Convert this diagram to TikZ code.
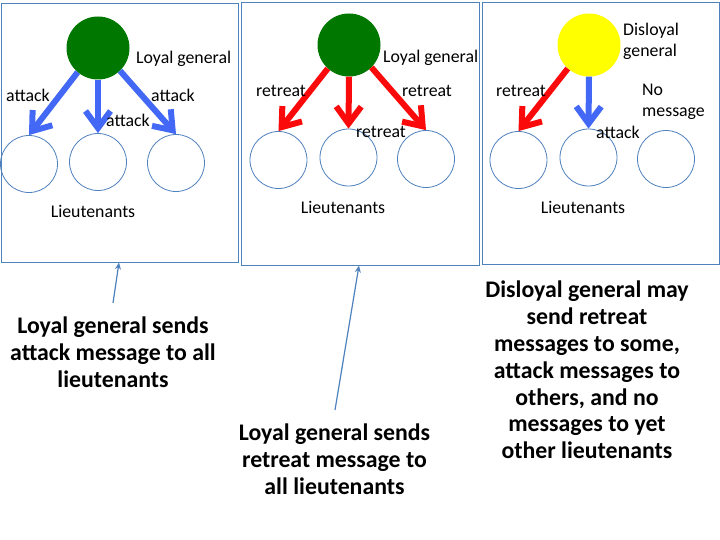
\documentclass[tikz,border=0pt]{standalone}
\usepackage{fontspec}
\setmainfont{Carlito}
\usetikzlibrary{arrows.meta}
\definecolor{boxblue}{RGB}{79,129,189}
\definecolor{arrblue}{RGB}{66,104,245}
\definecolor{arrred}{RGB}{250,10,10}
\definecolor{gengreen}{RGB}{0,120,0}
\definecolor{genyellow}{RGB}{255,255,0}
\begin{document}
\begin{tikzpicture}[x=1pt,y=-1pt,
  panel/.style={draw=boxblue,line width=1pt,inner sep=0pt},
  lieut/.style={circle,draw=boxblue,line width=0.8pt,minimum size=57pt,inner sep=0pt},
  gen/.style={circle,minimum size=63pt,inner sep=0pt},
  lbl/.style={font=\fontsize{17.8}{21}\selectfont,inner sep=0pt},
  msg/.style={line width=6pt,-{Straight Barb[length=17pt,width=25pt]}},
  note/.style={font=\bfseries\fontsize{23.8}{26.8}\selectfont,align=center,inner sep=0pt},
  ptr/.style={draw=boxblue,line width=1.2pt,-{Stealth[length=7pt,width=6pt]}}
]
\useasboundingbox[fill=white] (0,0) rectangle (720,540);

% panels
\node[panel,minimum width=237pt,minimum height=258pt] (p1) at (119.5,133) {};
\node[panel,minimum width=238pt,minimum height=262pt] (p2) at (360,134) {};
\node[panel,minimum width=237pt,minimum height=261pt] (p3) at (600.5,133.5) {};

% panel 1
\node[gen,fill=gengreen] (g1) at (98,48) {};
\node[lieut] (a1) at (29,164) {};
\node[lieut] (a2) at (98,162) {};
\node[lieut] (a3) at (176,163) {};
\draw[msg,arrblue] (g1.-130) -- (a1.north);
\draw[msg,arrblue] (g1.south) -- (a2.north);
\draw[msg,arrblue] (g1.-46) -- (a3.north);
\node[lbl,anchor=west] (lg1) at (136,59) {Loyal general};
\node[lbl] (m11) at (28,95) {attack};
\node[lbl] (m12) at (128,120) {attack};
\node[lbl] (m13) at (173,95) {attack};
\node[lbl] (lt1) at (93,211) {Lieutenants};

% panel 2
\node[gen,fill=gengreen] (g2) at (349,45) {};
\node[lieut] (b1) at (278.5,160) {};
\node[lieut] (b2) at (348.5,157.5) {};
\node[lieut] (b3) at (426,159) {};
\draw[msg,arrred] (g2.-132) -- (b1.north);
\draw[msg,arrred] (g2.south) -- (b2.north);
\draw[msg,arrred] (g2.-45) -- (b3.north);
\node[lbl,anchor=west] (lg2) at (383,58) {Loyal general};
\node[lbl] (m21) at (281,91) {retreat};
\node[lbl] (m22) at (381,132) {retreat};
\node[lbl] (m23) at (427,91) {retreat};
\node[lbl] (lt2) at (343,207) {Lieutenants};

% panel 3
\node[gen,fill=genyellow] (g3) at (589,45) {};
\node[lieut] (c1) at (518.5,160) {};
\node[lieut] (c2) at (588.5,157.5) {};
\node[lieut] (c3) at (666,159) {};
\draw[msg,arrred] (g3.-132) -- (c1.north);
\draw[msg,arrblue] (g3.south) -- (c2.north);
\node[lbl,anchor=west,align=left] (lg3) at (623,41.5) {Disloyal\\general};
\node[lbl] (m31) at (521,91) {retreat};
\node[lbl] (m32) at (618,132) {attack};
\node[lbl,anchor=west,align=left] (m33) at (642,101.5) {No\\message};
\node[lbl] (lt3) at (583,207) {Lieutenants};

% notes
\node[note] (n1) at (113,352) {Loyal general sends\\attack message to all\\lieutenants};
\node[note] (n2) at (334.5,459) {Loyal general sends\\retreat message to\\all lieutenants};
\node[note] (n3) at (587,370) {Disloyal general may\\send retreat\\messages to some,\\attack messages to\\others, and no\\messages to yet\\other lieutenants};

\coordinate (s1) at (113,303);
\coordinate (e1) at (119,262.5);
\coordinate (s2) at (335,410);
\coordinate (e2) at (359,265.5);
\draw[ptr] (s1) -- (e1);
\draw[ptr] (s2) -- (e2);
\end{tikzpicture}
\end{document}
